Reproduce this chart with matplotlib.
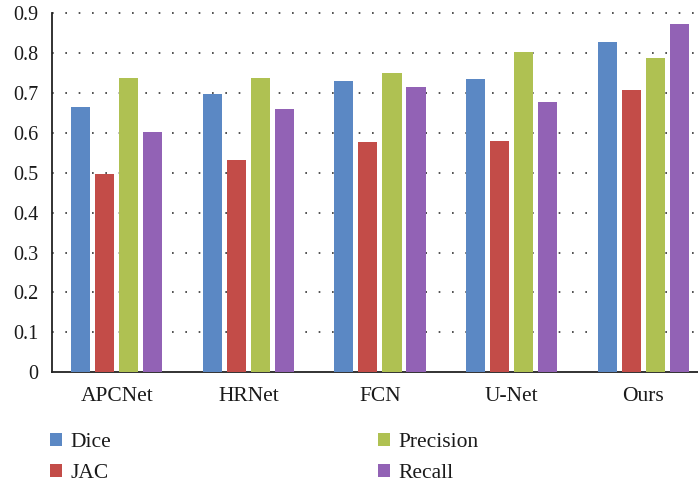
import matplotlib
matplotlib.use("Agg")
import matplotlib.pyplot as plt
import numpy as np
from matplotlib.patches import Patch

categories = ["APCNet", "HRNet", "FCN", "U-Net", "Ours"]
series_names = ["Dice", "JAC", "Precision", "Recall"]
dice = [0.666, 0.698, 0.731, 0.736, 0.829]
jac = [0.496, 0.533, 0.578, 0.580, 0.709]
precision = [0.739, 0.739, 0.751, 0.804, 0.789]
recall = [0.603, 0.659, 0.716, 0.678, 0.874]
yticks = [0, 0.1, 0.2, 0.3, 0.4, 0.5, 0.6, 0.7, 0.8, 0.9]
ytick_labels = ["0", "0.1", "0.2", "0.3", "0.4", "0.5", "0.6", "0.7", "0.8", "0.9"]

colors = ["#5B88C4", "#C34C48", "#AFC152", "#9262B5"]

plt.rcParams['font.family'] = ['Liberation Serif', 'DejaVu Serif']

fig = plt.figure(figsize=(6.98, 4.83), dpi=100)
ax = fig.add_axes([52/698, (483-372)/483, 1 - 52/698, (372-13.5)/483])

x = np.arange(len(categories))
width = 0.1445
step = 0.1825
all_series = [dice, jac, precision, recall]
for i, (vals, name, c) in enumerate(zip(all_series, series_names, colors)):
    ax.bar(x + (i - 1.5) * step, vals, width, color=c, label=name, zorder=3)

ax.set_xlim(-0.494, 4.418)
ax.set_ylim(0, 0.9)
ax.set_yticks(yticks)
ax.set_yticklabels(ytick_labels)
ax.set_xticks(x)
ax.set_xticklabels(categories)
ax.tick_params(axis='both', length=0, colors='#1a1a1a')
ax.tick_params(axis='y', pad=10, labelsize=14.5)
ax.tick_params(axis='x', pad=10.5, labelsize=15.5)

for t in yticks[1:]:
    ax.axhline(t, color='#333333', linestyle=(0, (1, 7)), linewidth=1.2, zorder=1, clip_on=False)

for s in ['top', 'right']:
    ax.spines[s].set_visible(False)
ax.spines['left'].set_color('#222222')
ax.spines['bottom'].set_color('#222222')
ax.spines['left'].set_linewidth(1.3)
ax.spines['bottom'].set_linewidth(1.3)

handles = [Patch(facecolor=c, edgecolor='none') for c in colors]
leg = fig.legend(handles, series_names, ncol=2, loc='upper left',
           bbox_to_anchor=(50/698, 1 - 433/483), frameon=False, fontsize=15.5,
           handlelength=0.56, handleheight=0.56, handletextpad=0.38,
           labelspacing=0.55, columnspacing=12.4, borderpad=0, borderaxespad=0)
for t in leg.get_texts():
    t.set_color('#1a1a1a')

fig.savefig("out.png", dpi=100)
